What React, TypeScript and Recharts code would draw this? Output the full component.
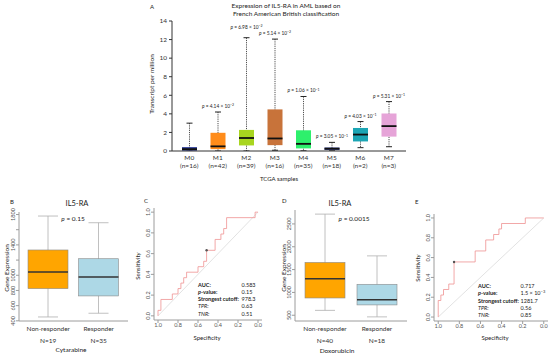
import React from 'react';
import {
  ComposedChart,
  Bar,
  Line,
  XAxis,
  YAxis,
  ReferenceLine,
  ReferenceDot,
} from 'recharts';

const FONT = 'Lato, "Open Sans", "DejaVu Sans", sans-serif';
const FRAME = '#9c9c9c';
const TICK_TEXT = '#555';

// A: IL5-RA in TCGA AML by FAB subtype (transcripts per million)
const fabGroups = ['M0', 'M1', 'M2', 'M3', 'M4', 'M5', 'M6', 'M7'];
const fabN = [16, 42, 39, 16, 35, 18, 2, 3];
const fabMin = [0, 0, 0, 0.08, 0.02, 0.02, 0.36, 0.46];
const fabQ1 = [0.03, 0.2, 0.6, 0.63, 0.28, 0.1, 1.03, 1.55];
const fabMedian = [0.2, 0.5, 1.4, 1.35, 0.77, 0.25, 1.77, 2.68];
const fabQ3 = [0.42, 1.96, 2.27, 4.48, 2.23, 0.38, 2.48, 4.04];
const fabMax = [3.0, 4.2, 12.2, 12.05, 5.87, 0.93, 3.17, 5.32];
const fabPCoef = ['', '4.14', '6.98', '5.14', '1.06', '3.05', '4.03', '5.31'];
const fabPExp = ['', '−2', '−2', '−2', '−1', '−1', '−1', '−1'];
const fabTicks = [0, 2, 4, 6, 8, 10, 12, 14];
const fabColors = ['#2f3f9a', '#ff8c1a', '#a8d51f', '#c8733a', '#2ef06c', '#3c4690', '#1ba5b4', '#e6a4d8'];

// B / D: responders vs non-responders
const respGroups = ['Non-responder', 'Responder'];
const respColors = ['#ffa500', '#add8e6'];

const cytN = ['N=19', 'N=35'];
const cytMin = [451, 500];
const cytQ1 = [824, 728];
const cytMedian = [1043, 978];
const cytQ3 = [1333, 1218];
const cytMax = [1780, 1692];
const cytTicks = [400, 600, 800, 1000, 1200, 1400, 1600, 1800];
const cytLabelled = [400, 600, 800, 1000, 1400, 1800];

const doxN = ['N=40', 'N=18'];
const doxMin = [607, 464];
const doxQ1 = [878, 726];
const doxMedian = [1300, 841];
const doxQ3 = [1657, 1178];
const doxMax = [2715, 1800];
const doxTicks = [500, 1000, 1500, 2000, 2500];

// C / E: ROC curves (specificity, sensitivity corners)
const rocTicks = [0, 0.2, 0.4, 0.6, 0.8, 1];
const cytSpec = [1, 0.971, 0.857, 0.8, 0.771, 0.743, 0.714, 0.6, 0.543, 0.514, 0.429, 0.371, 0.343, 0.314, 0.029, 0];
const cytSens = [0, 0.053, 0.158, 0.211, 0.263, 0.316, 0.368, 0.421, 0.474, 0.526, 0.632, 0.737, 0.789, 0.842, 0.947, 1];
const cytCutoff = [0.514, 0.632];
const cytStats = ['0.583', '0.15', '978.3', '0.63', '0.51'];

const doxSpec = [1, 0.975, 0.95, 0.9, 0.85, 0.65, 0.55, 0.475, 0.425, 0.4, 0.175, 0];
const doxSens = [0, 0.167, 0.222, 0.278, 0.333, 0.556, 0.667, 0.778, 0.833, 0.889, 0.944, 1];
const doxCutoff = [0.85, 0.556];
const doxStats = ['0.717', '1.5 × 10', '1281.7', '0.56', '0.85'];

const statLabels = ['AUC:', 'p-value:', 'Strongest cutoff:', 'TPR:', 'TNR:'];

const fabData = fabGroups.map((g, i) => ({
  group: g,
  range: [fabMin[i], fabMax[i]],
  q1: fabQ1[i],
  median: fabMedian[i],
  q3: fabQ3[i],
  pCoef: fabPCoef[i],
  pExp: fabPExp[i],
}));

const makeResp = (mn: number[], q1: number[], md: number[], q3: number[], mx: number[]) =>
  respGroups.map((g, i) => ({ group: g, range: [mn[i], mx[i]], q1: q1[i], median: md[i], q3: q3[i] }));

const cytData = makeResp(cytMin, cytQ1, cytMedian, cytQ3, cytMax);
const doxData = makeResp(doxMin, doxQ1, doxMedian, doxQ3, doxMax);
const cytRoc = cytSpec.map((s, i) => ({ spec: s, sens: cytSens[i] }));
const doxRoc = doxSpec.map((s, i) => ({ spec: s, sens: doxSens[i] }));

// R style 4% axis extension
const rPad = (lo: number, hi: number) => [lo - 0.04 * (hi - lo), hi + 0.04 * (hi - lo)];
const cytDomain = rPad(Math.min(...cytMin), Math.max(...cytMax));
const doxDomain = rPad(Math.min(...doxMin), Math.max(...doxMax));
const rocDomain = rPad(0, 1);

// the bar spans whisker low..high, inner values are placed on the same scale
const pixelOf = (props: any) => {
  const { y, height, payload } = props;
  const top = Math.min(y, y + height);
  const bottom = Math.max(y, y + height);
  const [lo, hi] = payload.range;
  return (v: number) => bottom - ((v - lo) / (hi - lo || 1)) * (bottom - top);
};

const FabBox = (props: any) => {
  const { x, width, payload, index } = props;
  const px = pixelOf(props);
  const cx = x + width / 2;
  const [lo, hi] = payload.range;
  const lift = payload.group === 'M2' ? 4.5 : 0;
  return (
    <g>
      <line x1={cx} x2={cx} y1={px(hi)} y2={px(lo)} stroke="#222" strokeWidth={0.8} strokeDasharray="1.2 1" />
      <line x1={cx - 3} x2={cx + 3} y1={px(hi)} y2={px(hi)} stroke="#222" strokeWidth={1} />
      <line x1={cx - 3} x2={cx + 3} y1={px(lo)} y2={px(lo)} stroke="#222" strokeWidth={1} />
      <rect x={x} y={px(payload.q3)} width={width} height={Math.max(px(payload.q1) - px(payload.q3), 1)} fill={fabColors[index]} />
      <line x1={x} x2={x + width} y1={px(payload.median)} y2={px(payload.median)} stroke="#111" strokeWidth={1.8} />
      {payload.pCoef && (
        <text x={cx} y={px(hi) - 4 - lift} textAnchor="middle" fontSize={4.8} fill="#222">
          <tspan fontStyle="italic">p</tspan>
          {` = ${payload.pCoef} × 10`}
          <tspan dy={-1.8} fontSize={3.5}>{payload.pExp}</tspan>
        </text>
      )}
    </g>
  );
};

const RespBox = (props: any) => {
  const { x, width, payload, index } = props;
  const px = pixelOf(props);
  const cx = x + width / 2;
  const [lo, hi] = payload.range;
  const cap = width / 4;
  return (
    <g>
      <line x1={cx} x2={cx} y1={px(hi)} y2={px(lo)} stroke="#b0b0b0" strokeWidth={0.8} />
      <line x1={cx - cap} x2={cx + cap} y1={px(hi)} y2={px(hi)} stroke="#b0b0b0" strokeWidth={0.8} />
      <line x1={cx - cap} x2={cx + cap} y1={px(lo)} y2={px(lo)} stroke="#b0b0b0" strokeWidth={0.8} />
      <rect x={x} y={px(payload.q3)} width={width} height={px(payload.q1) - px(payload.q3)} fill={respColors[index]} stroke="#8a8a8a" strokeWidth={0.6} />
      <line x1={x} x2={x + width} y1={px(payload.median)} y2={px(payload.median)} stroke="#333" strokeWidth={1.4} />
    </g>
  );
};

const FabTick = (props: any) => {
  const { x, y, payload } = props;
  const i = fabGroups.indexOf(payload.value);
  return (
    <text textAnchor="middle" fontSize={6.5} fill="#333">
      <tspan x={x} y={y + 8.5}>{payload.value}</tspan>
      <tspan x={x} y={y + 16.5}>(n={fabN[i]})</tspan>
    </text>
  );
};

const RespTick = (props: any) => {
  const { x, y, payload, counts } = props;
  const i = respGroups.indexOf(payload.value);
  return (
    <text textAnchor="middle" fontSize={6.5} fill="#333">
      <tspan x={x} y={y + 9.5}>{payload.value}</tspan>
      <tspan x={x} y={y + 21.5}>{counts[i]}</tspan>
    </text>
  );
};

const VertTick = (props: any) => {
  const { x, y, payload, only, digits } = props;
  if (only && !only.includes(payload.value)) return <g />;
  const label = digits != null ? Number(payload.value).toFixed(digits) : String(payload.value);
  return (
    <text x={x} y={y} transform={`rotate(-90 ${x} ${y})`} textAnchor="middle" fontSize={5.5} fill={TICK_TEXT}>
      {label}
    </text>
  );
};

interface RespChartProps {
  data: any[];
  counts: string[];
  domain: number[];
  ticks: number[];
  labelled?: number[];
  margin: { top: number; right: number; bottom: number; left: number };
}

function RespChart({ data, counts, domain, ticks, labelled, margin }: RespChartProps) {
  return (
    <ComposedChart width={135} height={160} data={data} margin={margin}>
      <XAxis
        dataKey="group"
        height={24}
        padding={{ left: 4, right: 4 }}
        tickLine={false}
        tickSize={0}
        tickMargin={0}
        interval={0}
        axisLine={{ stroke: FRAME }}
        tick={(p: any) => <RespTick {...p} counts={counts} />}
      />
      {/* top and right axis lines close the R style box */}
      <XAxis xAxisId="top" orientation="top" height={0} tick={false} tickLine={false} axisLine={{ stroke: FRAME }} />
      <YAxis
        width={14}
        type="number"
        domain={domain}
        ticks={ticks}
        interval={0}
        allowDataOverflow
        tickSize={3}
        tickMargin={1}
        axisLine={{ stroke: FRAME }}
        tickLine={{ stroke: FRAME }}
        tick={(p: any) => <VertTick {...p} only={labelled} />}
      />
      <YAxis yAxisId="right" orientation="right" width={0} type="number" domain={[0, 1]} tick={false} tickLine={false} axisLine={{ stroke: FRAME }} />
      <Bar dataKey="range" barSize={40} shape={RespBox} isAnimationActive={false} />
    </ComposedChart>
  );
}

interface RocChartProps {
  data: any[];
  cutoff: number[];
  width: number;
  margin: { top: number; right: number; bottom: number; left: number };
}

function RocChart({ data, cutoff, width, margin }: RocChartProps) {
  return (
    <ComposedChart width={width} height={160} data={data} margin={margin}>
      <XAxis
        type="number"
        dataKey="spec"
        domain={rocDomain}
        reversed
        allowDataOverflow
        ticks={rocTicks}
        interval={0}
        height={12}
        tickSize={3}
        tickMargin={0}
        tickFormatter={(v: number) => v.toFixed(1)}
        axisLine={{ stroke: FRAME }}
        tickLine={{ stroke: FRAME }}
        tick={{ fontSize: 5.5, fill: TICK_TEXT }}
      />
      <XAxis xAxisId="top" orientation="top" height={0} tick={false} tickLine={false} axisLine={{ stroke: FRAME }} />
      <YAxis
        type="number"
        width={10}
        domain={rocDomain}
        allowDataOverflow
        ticks={rocTicks}
        interval={0}
        tickSize={3}
        tickMargin={1}
        axisLine={{ stroke: FRAME }}
        tickLine={{ stroke: FRAME }}
        tick={(p: any) => <VertTick {...p} digits={1} />}
      />
      <YAxis yAxisId="right" orientation="right" width={0} type="number" domain={[0, 1]} tick={false} tickLine={false} axisLine={{ stroke: FRAME }} />
      <ReferenceLine segment={[{ x: 1, y: 0 }, { x: 0, y: 1 }]} stroke="#dadada" strokeWidth={0.8} />
      <Line dataKey="sens" type="stepBefore" stroke="#ef9292" strokeWidth={0.8} dot={false} isAnimationActive={false} />
      <ReferenceDot x={cutoff[0]} y={cutoff[1]} r={1.2} fill="#555" stroke="none" />
    </ComposedChart>
  );
}

const StatsBlock = ({ x, vx, y, values, pExp }: { x: number; vx: number; y: number; values: string[]; pExp?: string }) => (
  <g fontSize={5.5} fill="#222">
    {statLabels.map((l, i) => (
      <text key={l} x={x} y={y + i * 7.3} dominantBaseline="central" fontWeight={i < 3 ? 700 : 400} fontStyle={i >= 3 ? 'italic' : 'normal'}>
        {i === 1 ? (
          <>
            <tspan fontStyle="italic">p</tspan>-value:
          </>
        ) : (
          l
        )}
      </text>
    ))}
    {values.map((v, i) => (
      <text key={i} x={vx} y={y + i * 7.3} dominantBaseline="central">
        {v}
        {i === 1 && pExp ? <tspan dy={-2} fontSize={4}>{pExp}</tspan> : null}
      </text>
    ))}
  </g>
);

export default function App() {
  return (
    <div style={{ position: 'absolute', left: 0, top: 0, width: 550, height: 355, background: '#fff', fontFamily: FONT, overflow: 'hidden' }}>
      <div style={{ position: 'absolute', left: 130, top: 0 }}>
        <ComposedChart width={285} height={185} data={fabData} margin={{ top: 21, right: 9, bottom: 14, left: 22 }}>
          <XAxis
            dataKey="group"
            height={20}
            padding={{ left: 3, right: 3 }}
            tickLine={false}
            tickSize={0}
            tickMargin={0}
            interval={0}
            axisLine={{ stroke: '#333' }}
            tick={FabTick}
          />
          <YAxis
            width={20}
            type="number"
            domain={[0, 14]}
            ticks={fabTicks}
            interval={0}
            allowDataOverflow
            tickSize={3}
            tickMargin={2}
            axisLine={{ stroke: '#333' }}
            tickLine={{ stroke: '#333' }}
            tick={{ fontSize: 6.5, fill: '#333' }}
          />
          <Bar dataKey="range" barSize={15} shape={FabBox} isAnimationActive={false} />
        </ComposedChart>
      </div>

      <div style={{ position: 'absolute', left: 0, top: 195 }}>
        <RespChart data={cytData} counts={cytN} domain={cytDomain} ticks={cytTicks} labelled={cytLabelled} margin={{ top: 17, right: 7, bottom: 10, left: 5 }} />
      </div>
      <div style={{ position: 'absolute', left: 277, top: 195 }}>
        <RespChart data={doxData} counts={doxN} domain={doxDomain} ticks={doxTicks} margin={{ top: 15, right: 5, bottom: 10, left: 4 }} />
      </div>
      <div style={{ position: 'absolute', left: 134, top: 195 }}>
        <RocChart data={cytRoc} cutoff={cytCutoff} width={133} margin={{ top: 13, right: 5, bottom: 23, left: 10 }} />
      </div>
      <div style={{ position: 'absolute', left: 414, top: 195 }}>
        <RocChart data={doxRoc} cutoff={doxCutoff} width={136} margin={{ top: 19, right: 2, bottom: 22, left: 10 }} />
      </div>

      <svg width={550} height={355} style={{ position: 'absolute', left: 0, top: 0, pointerEvents: 'none', fontFamily: FONT }}>
        <g fill="#222" dominantBaseline="central">
          <text x={150} y={6} fontSize={6}>A</text>
          <text x={286} y={5.5} fontSize={6.5} textAnchor="middle">Expression of IL5-RA in AML based on</text>
          <text x={286} y={13.5} fontSize={6.5} textAnchor="middle">French American British classification</text>
          <text x={151} y={84} fontSize={6.5} textAnchor="middle" transform="rotate(-90 151 84)">Transcript per million</text>
          <text x={279} y={178} fontSize={6} textAnchor="middle">TCGA samples</text>

          <text x={10} y={201} fontSize={6}>B</text>
          <text x={77} y={203} fontSize={7.5} textAnchor="middle">IL5-RA</text>
          <text x={6} y={268} fontSize={6.5} textAnchor="middle" transform="rotate(-90 6 268)">Gene Expression</text>
          <text x={73} y={218} fontSize={6.5} textAnchor="middle"><tspan fontStyle="italic">p</tspan> = 0.15</text>
          <text x={71} y={349} fontSize={6.5} textAnchor="middle">Cytarabine</text>

          <text x={144} y={200} fontSize={6}>C</text>
          <text x={137} y={266} fontSize={6} textAnchor="middle" transform="rotate(-90 137 266)">Sensitivity</text>
          <text x={207} y={337} fontSize={6} textAnchor="middle">Specificity</text>

          <text x={282} y={200} fontSize={6}>D</text>
          <text x={340} y={203} fontSize={7.5} textAnchor="middle">IL5-RA</text>
          <text x={283} y={268} fontSize={6.5} textAnchor="middle" transform="rotate(-90 283 268)">Gene Expression</text>
          <text x={354} y={218} fontSize={6.5} textAnchor="middle"><tspan fontStyle="italic">p</tspan> = 0.0015</text>
          <text x={337} y={350} fontSize={6.5} textAnchor="middle">Doxorubicin</text>

          <text x={415} y={201} fontSize={6}>E</text>
          <text x={417} y={268} fontSize={6} textAnchor="middle" transform="rotate(-90 417 268)">Sensitivity</text>
          <text x={495} y={337} fontSize={6} textAnchor="middle">Specificity</text>
        </g>
        <StatsBlock x={198} vx={241.5} y={284.5} values={cytStats} />
        <StatsBlock x={478} vx={520.5} y={286} values={doxStats} pExp="−3" />
      </svg>
    </div>
  );
}
